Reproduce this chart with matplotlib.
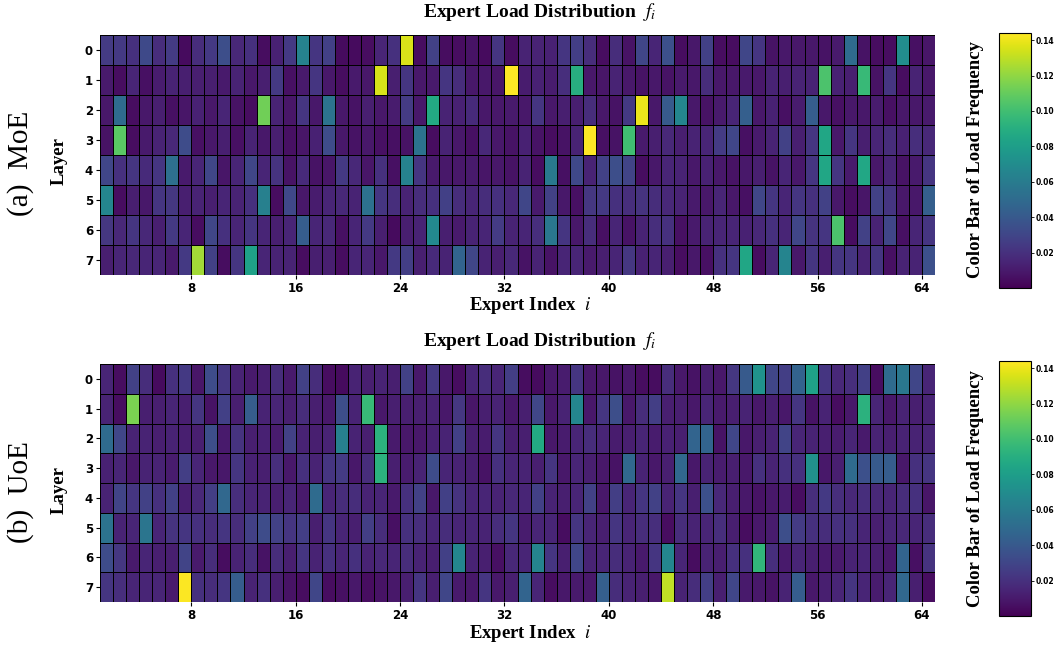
import numpy as np
import matplotlib
matplotlib.use("Agg")
import matplotlib.pyplot as plt
from matplotlib.colors import Normalize

# ---------------- data: load frequency f_i per layer (64 experts) ----------------
moe_layer0 = [0.025, 0.024, 0.02, 0.032, 0.018, 0.025, 0.004, 0.018, 0.024, 0.034, 0.016, 0.02, 0.005, 0.013, 0.024, 0.064,
              0.022, 0.027, 0.004, 0.004, 0.005, 0.015, 0.02, 0.136, 0.005, 0.028, 0.005, 0.005, 0.007, 0.004, 0.022, 0.005,
              0.014, 0.014, 0.013, 0.022, 0.026, 0.018, 0.005, 0.018, 0.007, 0.03, 0.015, 0.035, 0.005, 0.009, 0.027, 0.005,
              0.005, 0.03, 0.022, 0.007, 0.009, 0.009, 0.009, 0.007, 0.01, 0.05, 0.007, 0.005, 0.005, 0.07, 0.006, 0.008]
moe_layer1 = [0.01, 0.005, 0.015, 0.006, 0.011, 0.014, 0.012, 0.012, 0.012, 0.01, 0.014, 0.009, 0.012, 0.024, 0.006, 0.01,
              0.022, 0.009, 0.005, 0.01, 0.009, 0.135, 0.012, 0.022, 0.009, 0.01, 0.022, 0.018, 0.009, 0.009, 0.008, 0.144,
              0.011, 0.013, 0.011, 0.019, 0.09, 0.009, 0.008, 0.014, 0.009, 0.007, 0.009, 0.007, 0.01, 0.009, 0.018, 0.009,
              0.009, 0.01, 0.009, 0.014, 0.012, 0.014, 0.014, 0.103, 0.013, 0.012, 0.097, 0.007, 0.022, 0.005, 0.014, 0.009]
moe_layer2 = [0.009, 0.05, 0.005, 0.009, 0.012, 0.006, 0.008, 0.013, 0.009, 0.015, 0.007, 0.005, 0.113, 0.014, 0.008, 0.022,
              0.009, 0.055, 0.009, 0.007, 0.012, 0.009, 0.011, 0.025, 0.009, 0.087, 0.014, 0.013, 0.017, 0.009, 0.009, 0.01,
              0.009, 0.022, 0.009, 0.012, 0.012, 0.018, 0.009, 0.007, 0.024, 0.14, 0.009, 0.04, 0.066, 0.009, 0.007, 0.01,
              0.015, 0.043, 0.009, 0.013, 0.006, 0.011, 0.042, 0.009, 0.006, 0.009, 0.009, 0.011, 0.006, 0.009, 0.009, 0.01]
moe_layer3 = [0.007, 0.107, 0.005, 0.01, 0.014, 0.016, 0.033, 0.006, 0.009, 0.012, 0.006, 0.014, 0.009, 0.012, 0.006, 0.008,
              0.013, 0.033, 0.009, 0.007, 0.009, 0.006, 0.006, 0.007, 0.055, 0.005, 0.014, 0.009, 0.006, 0.016, 0.009, 0.007,
              0.013, 0.007, 0.005, 0.007, 0.014, 0.144, 0.006, 0.007, 0.1, 0.01, 0.012, 0.016, 0.012, 0.014, 0.015, 0.025,
              0.03, 0.006, 0.01, 0.014, 0.028, 0.012, 0.022, 0.085, 0.009, 0.022, 0.012, 0.015, 0.018, 0.013, 0.019, 0.016]
moe_layer4 = [0.03, 0.02, 0.022, 0.017, 0.022, 0.052, 0.01, 0.015, 0.03, 0.008, 0.015, 0.03, 0.015, 0.021, 0.007, 0.017,
              0.007, 0.008, 0.024, 0.016, 0.008, 0.02, 0.006, 0.064, 0.022, 0.01, 0.009, 0.009, 0.01, 0.008, 0.009, 0.007,
              0.014, 0.005, 0.058, 0.006, 0.031, 0.014, 0.028, 0.034, 0.029, 0.005, 0.009, 0.015, 0.014, 0.009, 0.013, 0.009,
              0.007, 0.009, 0.012, 0.007, 0.015, 0.009, 0.022, 0.085, 0.022, 0.01, 0.086, 0.009, 0.015, 0.007, 0.01, 0.022]
moe_layer5 = [0.066, 0.005, 0.012, 0.009, 0.022, 0.023, 0.012, 0.014, 0.012, 0.015, 0.014, 0.02, 0.062, 0.005, 0.031, 0.009,
              0.011, 0.015, 0.016, 0.014, 0.053, 0.022, 0.019, 0.014, 0.018, 0.02, 0.027, 0.018, 0.015, 0.018, 0.02, 0.016,
              0.03, 0.01, 0.028, 0.009, 0.006, 0.023, 0.024, 0.02, 0.019, 0.021, 0.018, 0.016, 0.014, 0.01, 0.009, 0.015,
              0.009, 0.006, 0.03, 0.022, 0.015, 0.022, 0.02, 0.028, 0.009, 0.005, 0.008, 0.028, 0.022, 0.009, 0.009, 0.043]
moe_layer6 = [0.023, 0.016, 0.022, 0.016, 0.012, 0.024, 0.015, 0.005, 0.03, 0.02, 0.015, 0.022, 0.015, 0.012, 0.015, 0.042,
              0.015, 0.016, 0.006, 0.015, 0.024, 0.012, 0.004, 0.012, 0.014, 0.068, 0.012, 0.01, 0.014, 0.015, 0.025, 0.014,
              0.015, 0.019, 0.057, 0.022, 0.009, 0.018, 0.006, 0.015, 0.007, 0.014, 0.019, 0.02, 0.006, 0.01, 0.014, 0.015,
              0.015, 0.013, 0.016, 0.02, 0.015, 0.03, 0.021, 0.022, 0.103, 0.005, 0.028, 0.014, 0.03, 0.006, 0.015, 0.022]
moe_layer7 = [0.012, 0.015, 0.016, 0.015, 0.015, 0.01, 0.024, 0.124, 0.027, 0.005, 0.022, 0.082, 0.015, 0.014, 0.014, 0.005,
              0.012, 0.012, 0.005, 0.015, 0.015, 0.009, 0.024, 0.026, 0.012, 0.017, 0.014, 0.046, 0.03, 0.014, 0.012, 0.016,
              0.007, 0.014, 0.007, 0.015, 0.015, 0.01, 0.012, 0.015, 0.023, 0.013, 0.015, 0.012, 0.005, 0.009, 0.006, 0.02,
              0.022, 0.085, 0.005, 0.015, 0.065, 0.009, 0.022, 0.012, 0.022, 0.022, 0.014, 0.022, 0.006, 0.014, 0.014, 0.035]

uoe_layer0 = [0.015, 0.005, 0.028, 0.018, 0.004, 0.02, 0.024, 0.008, 0.033, 0.023, 0.014, 0.01, 0.012, 0.018, 0.01, 0.028,
              0.018, 0.005, 0.004, 0.014, 0.012, 0.014, 0.012, 0.028, 0.009, 0.024, 0.009, 0.005, 0.015, 0.018, 0.015, 0.026,
              0.005, 0.004, 0.009, 0.011, 0.022, 0.009, 0.009, 0.007, 0.009, 0.005, 0.005, 0.018, 0.009, 0.007, 0.012, 0.009,
              0.023, 0.04, 0.074, 0.03, 0.026, 0.045, 0.082, 0.022, 0.016, 0.019, 0.027, 0.005, 0.05, 0.057, 0.03, 0.015]
uoe_layer1 = [0.014, 0.005, 0.115, 0.012, 0.012, 0.015, 0.012, 0.022, 0.007, 0.027, 0.012, 0.042, 0.014, 0.015, 0.012, 0.018,
              0.012, 0.009, 0.034, 0.014, 0.097, 0.009, 0.012, 0.012, 0.012, 0.014, 0.009, 0.023, 0.008, 0.012, 0.014, 0.009,
              0.012, 0.03, 0.009, 0.014, 0.066, 0.009, 0.022, 0.034, 0.009, 0.018, 0.026, 0.012, 0.012, 0.009, 0.015, 0.01,
              0.012, 0.014, 0.009, 0.012, 0.009, 0.022, 0.007, 0.014, 0.005, 0.009, 0.092, 0.015, 0.009, 0.014, 0.012, 0.014]
uoe_layer2 = [0.05, 0.03, 0.014, 0.014, 0.012, 0.014, 0.012, 0.012, 0.034, 0.01, 0.021, 0.012, 0.013, 0.011, 0.028, 0.014,
              0.012, 0.014, 0.062, 0.014, 0.012, 0.092, 0.01, 0.009, 0.009, 0.013, 0.014, 0.027, 0.012, 0.011, 0.022, 0.012,
              0.012, 0.087, 0.009, 0.011, 0.015, 0.018, 0.015, 0.011, 0.012, 0.015, 0.011, 0.013, 0.012, 0.046, 0.046, 0.007,
              0.03, 0.009, 0.012, 0.014, 0.029, 0.015, 0.014, 0.012, 0.011, 0.015, 0.01, 0.014, 0.012, 0.014, 0.014, 0.015]
uoe_layer3 = [0.013, 0.015, 0.009, 0.014, 0.014, 0.011, 0.026, 0.015, 0.009, 0.009, 0.022, 0.013, 0.012, 0.019, 0.009, 0.02,
              0.014, 0.022, 0.025, 0.009, 0.018, 0.092, 0.012, 0.011, 0.014, 0.033, 0.015, 0.014, 0.012, 0.007, 0.02, 0.015,
              0.014, 0.012, 0.022, 0.009, 0.015, 0.012, 0.009, 0.007, 0.048, 0.014, 0.009, 0.012, 0.048, 0.009, 0.014, 0.011,
              0.012, 0.009, 0.02, 0.014, 0.02, 0.02, 0.072, 0.009, 0.012, 0.05, 0.035, 0.04, 0.042, 0.009, 0.02, 0.022]
uoe_layer4 = [0.014, 0.029, 0.022, 0.028, 0.02, 0.027, 0.012, 0.016, 0.026, 0.048, 0.019, 0.015, 0.014, 0.012, 0.015, 0.01,
              0.05, 0.015, 0.018, 0.018, 0.014, 0.015, 0.01, 0.02, 0.028, 0.009, 0.027, 0.021, 0.015, 0.015, 0.014, 0.016,
              0.015, 0.027, 0.014, 0.012, 0.015, 0.028, 0.009, 0.026, 0.015, 0.022, 0.028, 0.014, 0.022, 0.012, 0.035, 0.016,
              0.012, 0.009, 0.007, 0.009, 0.011, 0.005, 0.019, 0.024, 0.019, 0.016, 0.019, 0.016, 0.015, 0.018, 0.02, 0.008]
uoe_layer5 = [0.055, 0.014, 0.015, 0.056, 0.015, 0.021, 0.022, 0.02, 0.018, 0.022, 0.018, 0.027, 0.033, 0.028, 0.022, 0.026,
              0.012, 0.022, 0.015, 0.012, 0.026, 0.018, 0.006, 0.02, 0.019, 0.015, 0.018, 0.015, 0.015, 0.014, 0.018, 0.022,
              0.011, 0.015, 0.015, 0.005, 0.022, 0.015, 0.012, 0.022, 0.015, 0.018, 0.019, 0.005, 0.018, 0.014, 0.015, 0.019,
              0.012, 0.005, 0.009, 0.011, 0.034, 0.025, 0.02, 0.018, 0.02, 0.02, 0.015, 0.012, 0.015, 0.016, 0.015, 0.018]
uoe_layer6 = [0.033, 0.023, 0.01, 0.015, 0.012, 0.012, 0.029, 0.01, 0.018, 0.005, 0.014, 0.018, 0.007, 0.018, 0.012, 0.022,
              0.014, 0.02, 0.015, 0.02, 0.014, 0.016, 0.015, 0.018, 0.014, 0.012, 0.027, 0.066, 0.014, 0.012, 0.006, 0.016,
              0.015, 0.065, 0.022, 0.012, 0.03, 0.014, 0.015, 0.018, 0.014, 0.01, 0.022, 0.066, 0.015, 0.005, 0.014, 0.012,
              0.02, 0.02, 0.095, 0.019, 0.01, 0.015, 0.012, 0.01, 0.01, 0.014, 0.015, 0.012, 0.009, 0.046, 0.006, 0.021]
uoe_layer7 = [0.022, 0.019, 0.015, 0.015, 0.015, 0.01, 0.143, 0.02, 0.018, 0.022, 0.042, 0.014, 0.02, 0.012, 0.007, 0.005,
              0.03, 0.005, 0.006, 0.009, 0.005, 0.007, 0.009, 0.012, 0.022, 0.012, 0.03, 0.01, 0.009, 0.022, 0.009, 0.012,
              0.046, 0.015, 0.005, 0.009, 0.01, 0.009, 0.043, 0.018, 0.014, 0.012, 0.009, 0.13, 0.014, 0.018, 0.026, 0.012,
              0.03, 0.01, 0.009, 0.007, 0.014, 0.042, 0.009, 0.012, 0.015, 0.022, 0.015, 0.011, 0.015, 0.048, 0.012, 0.005]

layer_labels = [0, 1, 2, 3, 4, 5, 6, 7]
expert_tick_labels = [8, 16, 24, 32, 40, 48, 56, 64]
cbar_tick_values = [0.02, 0.04, 0.06, 0.08, 0.10, 0.12, 0.14]
panel_tags = ["(a)  MoE", "(b)  UoE"]

moe = np.array([moe_layer0, moe_layer1, moe_layer2, moe_layer3,
                moe_layer4, moe_layer5, moe_layer6, moe_layer7])
uoe = np.array([uoe_layer0, uoe_layer1, uoe_layer2, uoe_layer3,
                uoe_layer4, uoe_layer5, uoe_layer6, uoe_layer7])

# ---------------- styling ----------------
plt.rcParams["mathtext.fontset"] = "stix"
SERIF = "Liberation Serif"
W, H = 1062, 655

fig = plt.figure(figsize=(W / 100, H / 100), dpi=100)
norm = Normalize(vmin=0.0, vmax=max(moe.max(), uoe.max()))


def fx(px):
    return px / W


def fy(py):
    return 1 - py / H


layouts = [
    dict(ax=[fx(100), fy(275), fx(835), 240 / H], cax=[fx(999), fy(288), fx(32), 255 / H], dy=0),
    dict(ax=[fx(100), fy(602), fx(835), 238 / H], cax=[fx(999), fy(616), fx(32), 255 / H], dy=329),
]

for data, tag, lay in zip([moe, uoe], panel_tags, layouts):
    ax = fig.add_axes(lay["ax"])
    n_layers, n_experts = data.shape
    mesh = ax.pcolormesh(np.arange(n_experts + 1), np.arange(n_layers + 1), data,
                         cmap="viridis", norm=norm, edgecolors="black", linewidth=0.7)
    ax.set_xlim(0, n_experts)
    ax.set_ylim(n_layers, 0)
    ax.set_yticks(np.arange(n_layers) + 0.5)
    ax.set_yticklabels(layer_labels, fontsize=8.5, fontweight="bold")
    ax.set_xticks(np.array(expert_tick_labels) - 1)
    ax.set_xticklabels(expert_tick_labels, fontsize=8.5, fontweight="bold")
    ax.tick_params(length=3, width=0.8, pad=2)
    for s in ax.spines.values():
        s.set_visible(False)

    dy = lay["dy"]
    fig.text(fx(540), fy(12 + dy), r"Expert Load Distribution  $f_i$", ha="center", va="center",
             fontsize=14, fontweight="bold", family=SERIF)
    fig.text(fx(530), fy(305 + dy), r"Expert Index  $i$", ha="center", va="center",
             fontsize=13.5, fontweight="bold", family=SERIF)
    fig.text(fx(59), fy(161 + dy), "Layer", ha="center", va="center", rotation=90,
             fontsize=13.5, fontweight="bold", family=SERIF)
    fig.text(fx(21), fy(163 + dy), tag, ha="center", va="center", rotation=90,
             fontsize=21, family=SERIF)

    cax = fig.add_axes(lay["cax"])
    cb = fig.colorbar(mesh, cax=cax)
    cb.set_ticks(cbar_tick_values)
    cb.ax.set_yticklabels([f"{v:.2f}" for v in cbar_tick_values], fontsize=5.5, fontweight="bold")
    cb.ax.tick_params(length=2, width=0.6, pad=1.5)
    cb.outline.set_linewidth(0.8)
    fig.text(fx(975), fy(160 + dy), "Color Bar of Load Frequency", ha="center", va="center",
             rotation=90, fontsize=13.5, fontweight="bold", family=SERIF)

fig.savefig("out.png", dpi=100)
